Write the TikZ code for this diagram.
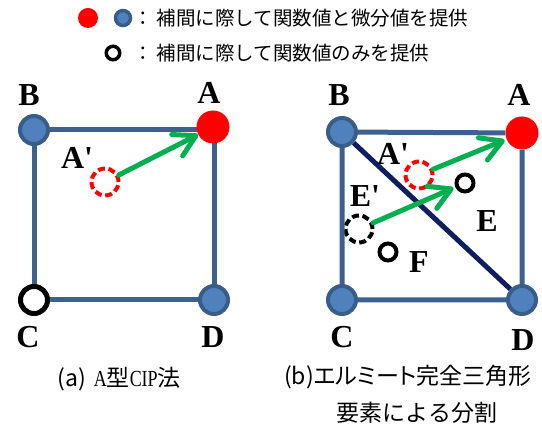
\documentclass[tikz,border=0pt]{standalone}
\usepackage{fontspec}
\setmainfont{Liberation Serif}
\newfontfamily\cjk{Noto Sans CJK JP}
\newfontfamily\halfserif[FakeStretch=0.78]{Liberation Serif}
\usetikzlibrary{arrows.meta}
\definecolor{ptblue}{RGB}{79,129,189}
\definecolor{ptrim}{RGB}{56,93,138}
\definecolor{sqblue}{RGB}{62,96,142}
\definecolor{diagnavy}{RGB}{14,30,94}
\definecolor{movegreen}{RGB}{0,176,80}

\begin{document}
\begin{tikzpicture}[x=1pt,y=-1pt,
    bluept/.style={circle,inner sep=0pt,minimum size=28pt,fill=ptblue,draw=ptrim,line width=4pt},
    redpt/.style={circle,inner sep=0pt,minimum size=33pt,fill=red},
    ringpt/.style={circle,inner sep=0pt,minimum size=27pt,draw=black,fill=white,line width=5pt},
    smallring/.style={circle,inner sep=0pt,minimum size=17pt,draw=black,line width=4pt},
    ghostpt/.style={circle,inner sep=0pt,minimum size=27pt,line width=4pt,dash pattern=on 7pt off 3.6pt},
    sqline/.style={draw=sqblue,line width=5pt},
    diagline/.style={draw=diagnavy,line width=5pt},
    movearrow/.style={draw=movegreen,line width=5pt,line cap=round,
        -{Straight Barb[length=21pt,width=24pt,line cap=round,line join=round]},shorten >=2pt},
    ptlabel/.style={inner sep=0pt,font=\bfseries\fontsize{32}{36}\selectfont},
    legtext/.style={inner sep=0pt,anchor=west,font=\cjk\fontsize{19.5}{23}\selectfont},
    captext/.style={inner sep=0pt,font=\cjk\fontsize{23}{27}\selectfont}]
\useasboundingbox (0,0) rectangle (542,427);

% legend
\node[circle,inner sep=0pt,minimum size=20pt,fill=red] (lgRed) at (88,18) {};
\node[circle,inner sep=0pt,minimum size=15pt,fill=ptblue,draw=ptrim,line width=3.5pt] (lgBlue) at (123,18) {};
\node[circle,inner sep=0pt,minimum size=13.5pt,draw=black,line width=3.5pt] (lgRing) at (113,53) {};
\node[legtext] (lgText1) at (133,18) {：\hspace{4pt}補間に際して関数値と微分値を提供};
\node[legtext] (lgText2) at (133,53) {：\hspace{4pt}補間に際して関数値のみを提供};

% (a) A-type CIP
\node[bluept] (aB) at (34,130) {};
\node[ringpt] (aC) at (34,300) {};
\node[bluept] (aD) at (214,300) {};
\coordinate (aCorner) at (214,130);
\draw[sqline] (aB) -- (aCorner) -- (aD) (aD) -- (aC) (aC) -- (aB);
\node[redpt] (aA) at (213,127) {};
\node[ghostpt,draw=red] (aAp) at (105,182) {};
\draw[movearrow,shorten >=0pt] (aAp) -- (aA);
\node[ptlabel] (aBlab) at (29,95) {B};
\node[ptlabel] (aAlab) at (209,93) {A};
\node[ptlabel] (aAplab) at (77,158) {A\textquotesingle};
\node[ptlabel] (aClab) at (28,337) {C};
\node[ptlabel] (aDlab) at (213,337) {D};
\node[captext] (capA) at (119,379) {(a)\hspace{8pt}{\halfserif A}型{\halfserif CIP}法};

% (b) Hermite triangle split
\node[bluept] (bB) at (342,132) {};
\node[redpt] (bA) at (522,133) {};
\node[bluept] (bC) at (342,300) {};
\node[bluept] (bD) at (522,300) {};
\node[ghostpt,draw=red] (bAp) at (419,175) {};
\node[ghostpt,draw=black] (bEp) at (359,229) {};
\node[smallring] (bE) at (465,183) {};
\node[smallring] (bF) at (388,252) {};
\draw[sqline] (bB) -- (bA) (bA) -- (bD) (bD) -- (bC) (bC) -- (bB);
\draw[diagline] (bB) -- (bD);
\draw[movearrow] (bAp) -- (bA);
\draw[movearrow] (bEp) -- (bE);
\node[ptlabel] (bBlab) at (339,95) {B};
\node[ptlabel] (bAlab) at (519,95) {A};
\node[ptlabel] (bAplab) at (393,154) {A\textquotesingle};
\node[ptlabel] (bEplab) at (365,196) {E\textquotesingle};
\node[ptlabel] (bElab) at (487,221) {E};
\node[ptlabel] (bFlab) at (419,262) {F};
\node[ptlabel] (bClab) at (342,337) {C};
\node[ptlabel] (bDlab) at (523,340) {D};
\node[captext] (capB1) at (408,377) {\addfontfeature{RawFeature=+palt}(b)エルミート完全三角形};
\node[captext] (capB2) at (417,413) {要素による分割};
\end{tikzpicture}
\end{document}
